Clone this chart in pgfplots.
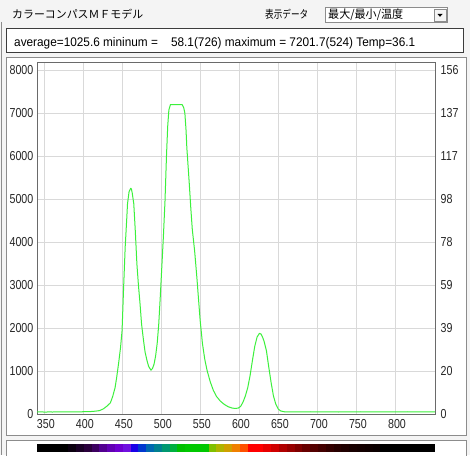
\documentclass[border=0pt]{standalone}
\usepackage{fontspec}
\usepackage{graphicx}
\usepackage{pgfplots}
\pgfplotsset{compat=1.18}
\setmainfont{Liberation Sans}
\newfontfamily\tickfont[FakeStretch=0.82]{Liberation Sans}
\newfontfamily\jpfont{Noto Sans CJK JP}

\definecolor{bgcol}{HTML}{F4F4F4}
\definecolor{gridcol}{HTML}{D9D9D9}
\definecolor{framecol}{HTML}{6A6A6A}
\definecolor{panelcol}{HTML}{8C8C8C}
\definecolor{boxcol}{HTML}{3C3C3C}
\definecolor{specgreen}{HTML}{3CF03C}

% spectrum: wavelength (nm) vs. intensity
\pgfplotstableread{
nm val
340 58
345 60
350 57
355 59
360 58
365 61
370 60
375 59
380 62
385 61
390 63
395 62
400 65
405 66
410 70
415 78
420 90
425 130
430 200
434 270
437 420
440 620
442 850
444.5 1180
447 1550
449 1950
450 2450
451 2960
453 3890
455 4550
456 4900
458 5180
460 5255
461 5240
462 5150
464 4900
466 4250
468 3500
470 3000
472 2580
474 2100
476.5 1720
478.5 1450
481 1250
483 1120
486 1030
488 1070
490 1170
492 1360
494 1650
496 2100
498 2750
500 3450
502 4150
504 4950
506 6050
507.5 6700
509 7080
511 7201.7
524 7201.7
526 7201.7
528 7130
529.5 7000
531 6600
532 6200
535 5400
537 4820
539 4300
542 3800
545 3150
549 2200
552 1650
555 1280
558 1020
562 760
566 560
570 420
575 310
580 235
585 180
590 150
594 140
598 150
601 190
604 290
607 430
610 620
613 900
616 1250
619 1580
622 1800
625 1885
627 1870
629 1800
631 1700
634 1480
637 1100
640 740
643 430
646 240
649 130
652 85
656 65
660 60
670 62
680 59
690 64
700 60
710 63
720 60
726 58.1
735 62
745 60
755 64
765 61
775 63
785 60
795 62
805 61
815 64
825 60
835 63
845 61
850 60
}\spectrum

\begin{document}
\begin{tikzpicture}
% page area and window decorations (pixel units, y down)
\begin{scope}[shift={(0,455pt)},x=1pt,y=-1pt]
  \useasboundingbox (0,0) rectangle (470,455);
  \fill[bgcol] (0,0) rectangle (470,455);
  \draw[panelcol,line width=1pt] (1.5,22) -- (1.5,455);
  % header line
  \node[anchor=west,inner sep=0pt] at (12,14.5)
    {\resizebox{131pt}{\height}{\jpfont\fontsize{11}{11}\selectfont カラーコンパスＭＦモデル}};
  \node[anchor=west,inner sep=0pt] at (265,14.5)
    {\resizebox{43pt}{\height}{\jpfont\fontsize{11}{11}\selectfont 表示データ}};
  \draw[fill=white,draw=panelcol,line width=1pt] (325.5,7.5) rectangle (447.5,22.5);
  \node[anchor=west,inner sep=0pt] at (328,15)
    {\resizebox{75pt}{\height}{\jpfont\fontsize{11.5}{11.5}\selectfont 最大/最小/温度}};
  \draw[fill=bgcol,draw=panelcol,line width=0.6pt] (434,9.5) rectangle (446,21);
  \fill[black] (437.5,14) -- (442.5,14) -- (440,16.8) -- cycle;
  % statistics line
  \draw[fill=white,draw=boxcol,line width=1pt] (6.5,28.5) rectangle (463,53);
  \node[anchor=base west,inner sep=0pt] at (14,47)
    {\resizebox{401pt}{\height}{\fontsize{12.5}{12.5}\selectfont average=1025.6 mininum =\ \ \ \ 58.1(726) maximum = 7201.7(524) Temp=36.1}};
  % chart panel
  \draw[fill=white,draw=panelcol,line width=1pt] (6.5,57.5) rectangle (466,435);
  % colour scale panel
  \draw[fill=white,draw=panelcol,line width=1pt] (6.5,440.5) rectangle (466,460);
  \foreach \h [count=\i from 0] in {000000,000000,000000,000000,0C0010,1A0026,2A003C,3C0060,
      520090,6200B4,6E00D0,7010E0,1800E8,0038D0,0068B0,008090,009870,00B040,00C000,00C800,
      00C800,00C800,80C000,B0B400,D0A000,F08000,FF5000,FF0000,FF0000,E80000,D00000,B00000,
      980000,800000,680000,540000,440000,340000,280000,200000,180000,140000,100000,0C0000,
      000000,000000,000000,000000,000000,000000,000000}{
    \definecolor{seg}{HTML}{\h}
    \fill[seg] ({37+\i*7.804},444) rectangle ({37+(\i+1)*7.804+0.3},452);
  }
\end{scope}

% main spectrum axis
\begin{axis}[
  at={(37pt,40.5pt)}, anchor=south west,
  scale only axis, width=398pt, height=352.5pt,
  xmin=340, xmax=850, ymin=0, ymax=8191,
  xtick={350,400,...,850}, xticklabels={350,400,450,500,550,600,650,700,750,800,},
  ytick={0,1000,...,8000},
  major tick length=0pt,
  grid=major,
  major grid style={gridcol,line width=1pt},
  axis line style={framecol,line width=1pt},
  tick label style={font=\tickfont\fontsize{13}{13}\selectfont, text=black!85},
  /pgf/number format/assume math mode=true,
  /pgf/number format/1000 sep={},
  yticklabel style={inner sep=0pt, anchor=east, xshift=-3.5pt},
  xticklabel style={inner sep=0pt, anchor=north, yshift=-4.5pt, xshift=1pt},
  axis on top=false,
]
\addplot[specgreen, line width=1pt, line join=round] table[x=nm,y=val] {\spectrum};
\end{axis}

% right-hand scale
\begin{axis}[
  at={(37pt,40.5pt)}, anchor=south west,
  scale only axis, width=398pt, height=352.5pt,
  xmin=340, xmax=850, ymin=0, ymax=8191,
  axis x line=none, axis y line*=right,
  axis line style={draw=none},
  ytick={0,1000,...,8000},
  yticklabels={0,20,39,59,78,98,117,137,156},
  major tick length=0pt,
  tick label style={font=\tickfont\fontsize{13}{13}\selectfont, text=black!85},
  /pgf/number format/assume math mode=true,
  yticklabel style={inner sep=0pt, anchor=west, xshift=5.5pt},
]
\addplot[draw=none] coordinates {(340,0)};
\end{axis}
\end{tikzpicture}
\end{document}
